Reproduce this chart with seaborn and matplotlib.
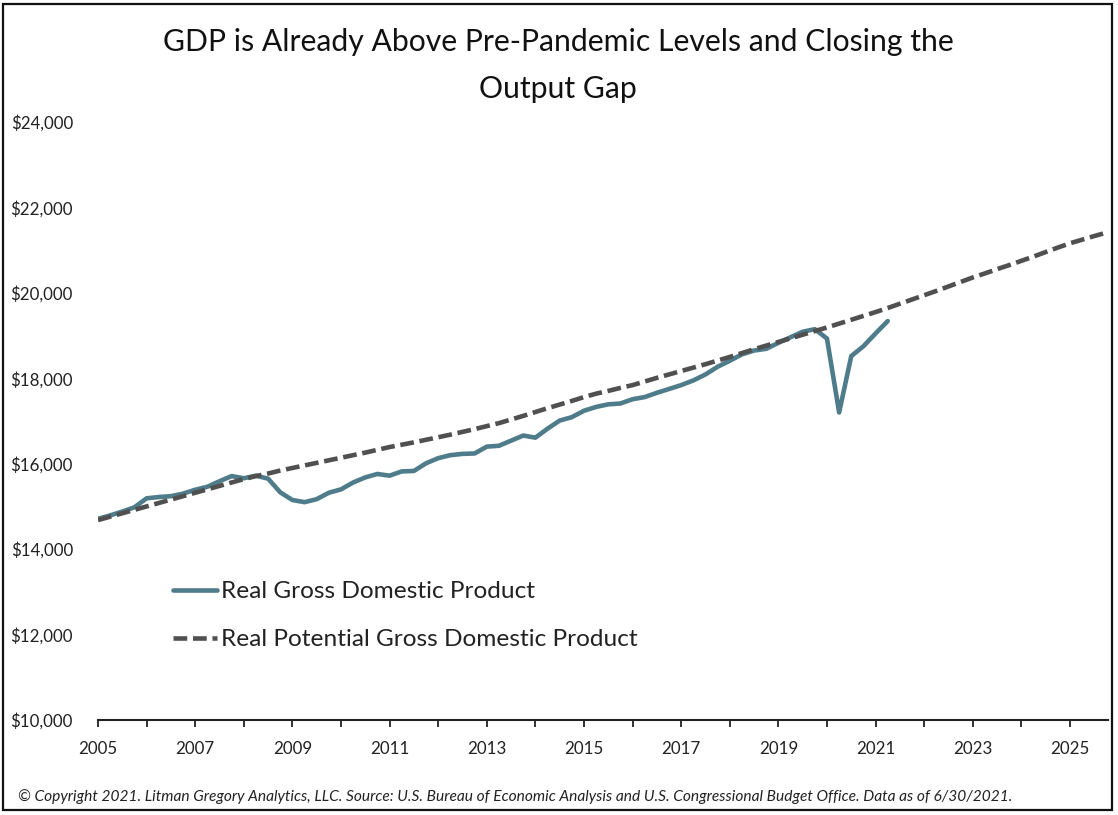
import numpy as np
import pandas as pd
import matplotlib
matplotlib.use("Agg")
import matplotlib.pyplot as plt
import seaborn as sns
from matplotlib.patches import Rectangle

# quarterly values, billions of dollars
gdp = [14710, 14790, 14880, 14980,
       15190, 15220, 15240, 15300,
       15390, 15460, 15590, 15710,
       15660, 15720, 15650, 15330,
       15150, 15100, 15170, 15320,
       15400, 15560, 15680, 15760,
       15720, 15820, 15830, 16010,
       16130, 16200, 16230, 16240,
       16400, 16420, 16540, 16660,
       16610, 16820, 17010, 17090,
       17240, 17330, 17390, 17410,
       17510, 17560, 17660, 17750,
       17840, 17950, 18090, 18270,
       18410, 18560, 18650, 18690,
       18830, 18960, 19090, 19150,
       18930, 17200, 18520, 18750,
       19050, 19340]

potential = [14680, 14760, 14840, 14920,
             15000, 15080, 15160, 15240,
             15320, 15400, 15480, 15560,
             15640, 15710, 15770, 15840,
             15900, 15960, 16020, 16080,
             16140, 16200, 16260, 16325,
             16390, 16445, 16500, 16560,
             16620, 16680, 16745, 16810,
             16880, 16950, 17035, 17120,
             17210, 17300, 17385, 17470,
             17560, 17640, 17705, 17775,
             17840, 17925, 18010, 18090,
             18170, 18250, 18330, 18415,
             18500, 18590, 18680, 18765,
             18850, 18935, 19020, 19105,
             19190, 19280, 19370, 19460,
             19550, 19645, 19745, 19845,
             19945, 20045, 20150, 20255,
             20360, 20455, 20555, 20650,
             20750, 20850, 20955, 21060,
             21160, 21245, 21330, 21410]

year_labels = ["2005", "", "2007", "", "2009", "", "2011", "", "2013", "", "2015", "",
               "2017", "", "2019", "", "2021", "", "2023", "", "2025"]
y_ticks = [10000, 12000, 14000, 16000, 18000, 20000, 22000, 24000]

GDP_NAME = "Real Gross Domestic Product"
POT_NAME = "Real Potential Gross Domestic Product"

df = pd.concat([
    pd.DataFrame({"quarter": np.arange(len(gdp)), "value": gdp, "series": GDP_NAME}),
    pd.DataFrame({"quarter": np.arange(len(potential)), "value": potential, "series": POT_NAME}),
])

sns.set_theme(style="white")
plt.rcParams["font.family"] = ["Lato", "DejaVu Sans"]

W, H = 1118, 815
fig = plt.figure(figsize=(W / 100, H / 100), dpi=100)
ax = fig.add_axes([98 / W, (H - 720) / H, 1010 / W, 598 / H])

sns.lineplot(data=df, x="quarter", y="value", hue="series", style="series",
             palette={GDP_NAME: "#4f7c8a", POT_NAME: "#505050"},
             dashes={GDP_NAME: "", POT_NAME: (3.0, 1.25)},
             linewidth=3.3, ax=ax)

ax.set_xlim(0, 83.13)
ax.set_ylim(10000, 24000)
ax.set_xlabel("")
ax.set_ylabel("")
ax.set_xticks(np.arange(len(year_labels)) * 4)
ax.set_xticklabels(year_labels, fontsize=12.2, color="#222222")
ax.set_yticks(y_ticks)
ax.set_yticklabels([f"${v:,}" for v in y_ticks], fontsize=12.2, color="#222222")
ax.tick_params(axis="x", length=5, width=1.3, color="#222222", pad=10, bottom=True)
ax.tick_params(axis="y", length=0, pad=18)

sns.despine(ax=ax, left=True)
ax.spines["bottom"].set_linewidth(1.5)
ax.spines["bottom"].set_color("#222222")

leg = ax.legend(loc="upper left", bbox_to_anchor=(75 / 1010, 139 / 598),
                frameon=False, fontsize=17.6, handlelength=1.78, handletextpad=0.18,
                labelspacing=1.1, borderpad=0, borderaxespad=0)
for t in leg.get_texts():
    t.set_color("#222222")

fig.text(558 / W, 1 - 42 / H, "GDP is Already Above Pre-Pandemic Levels and Closing the",
         ha="center", va="center", fontsize=21.7, color="#111111")
fig.text(558 / W, 1 - 89 / H, "Output Gap",
         ha="center", va="center", fontsize=21.7, color="#111111")
fig.text(18 / W, 1 - 797 / H,
         "© Copyright 2021. Litman Gregory Analytics, LLC. Source: U.S. Bureau of Economic "
         "Analysis and U.S. Congressional Budget Office. Data as of 6/30/2021.",
         ha="left", va="center", fontsize=11.13, style="italic", color="#222222")

# black frame around the whole picture
fig.add_artist(Rectangle((3 / W, 1 - 810 / H), 1109 / W, 806 / H, transform=fig.transFigure,
                         fill=False, edgecolor="#111111", linewidth=1.6))

fig.savefig("out.png", dpi=100)
